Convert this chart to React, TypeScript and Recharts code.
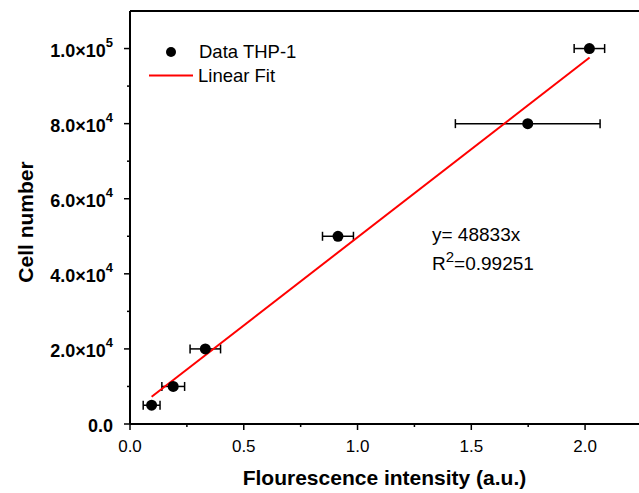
import React from "react";
import {
  ComposedChart,
  Scatter,
  ErrorBar,
  XAxis,
  YAxis,
  Legend,
  ReferenceLine,
  Label,
} from "recharts";

// values
const intensity = [0.095, 0.19, 0.331, 0.914, 1.748, 2.019];
const cellNumber = [5000, 10000, 20000, 50000, 80000, 100000];
const intensityErr = [0.037, 0.05, 0.067, 0.068, 0.318, 0.067];

// linear fit line as drawn (end points)
const fitX = [0.095, 2.02];
const fitY = [7250, 97600];

const xTicks = [0, 0.25, 0.5, 0.75, 1.0, 1.25, 1.5, 1.75, 2.0];
const yTicks = [0, 10000, 20000, 30000, 40000, 50000, 60000, 70000, 80000, 90000, 100000];

const seriesNames = ["Data THP-1", "Linear Fit"];
const fitLabel = "y= 48833x";
const r2Value = "=0.99251";

const FONT = "'Liberation Sans', Arial, Helvetica, sans-serif";

const points = intensity.map((x, i) => ({
  x,
  y: cellNumber[i],
  xErr: intensityErr[i],
}));
const fitLine = fitX.map((x, i) => ({ x, y: fitY[i] }));

const YTick = (props: any) => {
  const { x, y, payload } = props;
  const v = payload.value;
  const major = v % 20000 === 0;
  let label: React.ReactNode = null;
  if (major) {
    if (v === 0) {
      label = "0.0";
    } else {
      const exp = Math.floor(Math.log10(v));
      const mant = (v / Math.pow(10, exp)).toFixed(1);
      label = (
        <>
          {mant + "\u00d710"}
          <tspan fontSize={13} dy={-10}>
            {exp}
          </tspan>
        </>
      );
    }
  }
  return (
    <g>
      <line x1={x - (major ? 6 : 3)} x2={x} y1={y} y2={y} stroke="#000" strokeWidth={1.5} />
      {label && (
        <text
          x={x - 17}
          y={y + 8}
          textAnchor="end"
          fontFamily={FONT}
          fontWeight="bold"
          fontSize={18}
          fill="#000"
        >
          {label}
        </text>
      )}
    </g>
  );
};

const XTick = (props: any) => {
  const { x, y, payload } = props;
  const v = payload.value;
  const major = Math.abs(v * 2 - Math.round(v * 2)) < 1e-6;
  return (
    <g>
      <line x1={x} x2={x} y1={y} y2={y + (major ? 6 : 3)} stroke="#000" strokeWidth={1.5} />
      {major && (
        <text x={x} y={y + 28} textAnchor="middle" fontFamily={FONT} fontSize={17} fill="#000">
          {v.toFixed(1)}
        </text>
      )}
    </g>
  );
};

const LegendBox = () => (
  <svg width={180} height={56} style={{ display: "block" }}>
    <circle cx={31} cy={16} r={5} fill="#000" />
    <text x={59} y={22} fontFamily={FONT} fontSize={18.5} fill="#000">
      {seriesNames[0]}
    </text>
    <line x1={9} x2={53} y1={39.5} y2={39.5} stroke="#ff0000" strokeWidth={2} />
    <text x={58} y={45.7} fontFamily={FONT} fontSize={18.5} fill="#000">
      {seriesNames[1]}
    </text>
  </svg>
);

export default function App() {
  return (
    <div style={{ position: "absolute", left: 0, top: 0, width: 639, height: 493, background: "#fff" }}>
      <ComposedChart
        width={639}
        height={493}
        margin={{ top: 11, right: 0, bottom: 0, left: 0 }}
      >
        <XAxis
          dataKey="x"
          type="number"
          domain={[0, 2.237]}
          allowDataOverflow
          ticks={xTicks}
          interval={0}
          height={69}
          tickSize={0}
          tickMargin={0}
          tick={<XTick />}
          axisLine={{ stroke: "#000", strokeWidth: 2 }}
        >
          <Label
            content={(p: any) => (
              <text
                x={p.viewBox.x + p.viewBox.width / 2}
                y={p.viewBox.y + 61}
                textAnchor="middle"
                fontFamily={FONT}
                fontWeight="bold"
                fontSize={21}
                fill="#000"
              >
                Flourescence intensity (a.u.)
              </text>
            )}
          />
        </XAxis>
        <YAxis
          dataKey="y"
          type="number"
          domain={[0, 110000]}
          allowDataOverflow
          ticks={yTicks}
          interval={0}
          width={130}
          tickSize={0}
          tickMargin={0}
          tick={<YTick />}
          axisLine={{ stroke: "#000", strokeWidth: 2 }}
        >
          <Label
            content={() => (
              <text
                x={33}
                y={222}
                transform="rotate(-90 33 222)"
                textAnchor="middle"
                fontFamily={FONT}
                fontWeight="bold"
                fontSize={21}
                fill="#000"
              >
                Cell number
              </text>
            )}
          />
        </YAxis>
        <ReferenceLine y={110000} stroke="#000" strokeWidth={2} ifOverflow="visible" />
        <Legend
          layout="vertical"
          align="center"
          verticalAlign="middle"
          content={() => <LegendBox />}
          wrapperStyle={{ position: "absolute", left: 140, top: 36, width: 180, height: 56 }}
        />
        <Scatter
          name={seriesNames[1]}
          data={fitLine}
          line={{ stroke: "#ff0000", strokeWidth: 2 }}
          lineType="joint"
          shape={() => <g />}
          isAnimationActive={false}
          legendType="line"
        />
        <Scatter
          name={seriesNames[0]}
          data={points}
          fill="#000"
          shape={(p: any) => <circle cx={p.cx} cy={p.cy} r={5.5} fill="#000" />}
          isAnimationActive={false}
        >
          <ErrorBar dataKey="xErr" direction="x" width={4.5} stroke="#000" strokeWidth={1.5} />
        </Scatter>
      </ComposedChart>
      <svg
        width={639}
        height={493}
        style={{ position: "absolute", left: 0, top: 0, pointerEvents: "none" }}
      >
        <text x={432} y={241} fontFamily={FONT} fontSize={19} fill="#000">
          {fitLabel}
        </text>
        <text x={432} y={270} fontFamily={FONT} fontSize={19} fill="#000">
          R
          <tspan fontSize={15} dy={-8}>
            2
          </tspan>
          <tspan dy={8}>{r2Value}</tspan>
        </text>
      </svg>
    </div>
  );
}
